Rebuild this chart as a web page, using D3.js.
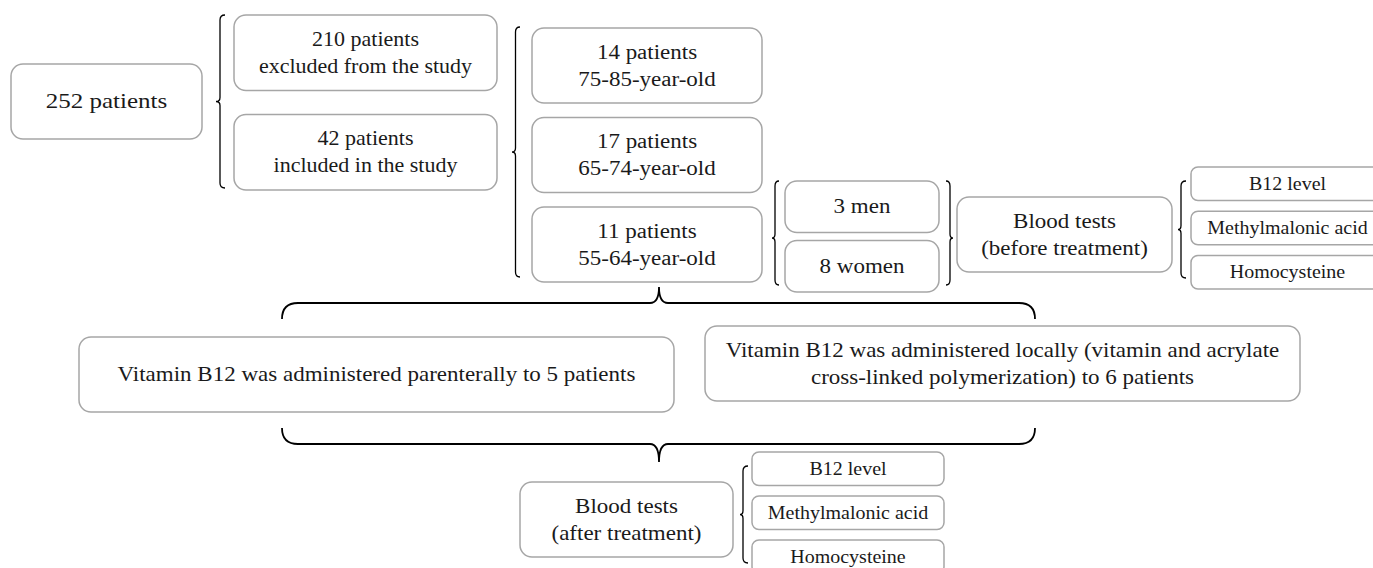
<!DOCTYPE html>
<html>
<head>
<meta charset="utf-8">
<script src="https://cdn.jsdelivr.net/npm/d3@7"></script>
<style>
  body { margin: 0; background: #fff; }
  svg { display: block; }
</style>
</head>
<body>
<svg id="chart"></svg>
<script>
// labels of the flow chart
const rootLabel = ["252 patients"];
const screening = [["210 patients", "excluded from the study"], ["42 patients", "included in the study"]];
const ageGroups = [["14 patients", "75-85-year-old"], ["17 patients", "65-74-year-old"], ["11 patients", "55-64-year-old"]];
const sexes = [["3 men"], ["8 women"]];
const testsBefore = ["Blood tests", "(before treatment)"];
const markers = ["B12 level", "Methylmalonic acid", "Homocysteine"];
const treatments = [
    ["Vitamin B12 was administered parenterally to 5 patients"],
    ["Vitamin B12 was administered locally (vitamin and acrylate", "cross-linked polymerization) to 6 patients"]
];
const testsAfter = ["Blood tests", "(after treatment)"];

const W = 1373, H = 568;
const FONT = "'Liberation Serif', 'Times New Roman', serif";
const BASE_FS = 18;   // text is drawn at this size, then scaled (fh = height, fw = width)

const svg = d3.select("#chart").attr("width", W).attr("height", H);
const gBox = svg.append("g");
const gBrace = svg.append("g");

// vertical stack of boxes
const stack = (n, y0, y1, pad) => d3.scaleBand().domain(d3.range(n)).range([y0, y1]).paddingInner(pad);

function box(x0, x1, y0, y1, lines, opt = {}) {
    const r = opt.r || 12, fh = opt.fh || 20, fw = opt.fw || 23, lh = opt.lh || 27;
    gBox.append("rect")
        .attr("x", x0).attr("y", y0)
        .attr("width", x1 - x0).attr("height", y1 - y0)
        .attr("rx", r).attr("ry", r)
        .attr("fill", "#fff")
        .attr("stroke", "#a6a6a6")
        .attr("stroke-width", 1.5);
    const ky = fh / BASE_FS, kx = fw / BASE_FS;
    const cx = (x0 + x1) / 2, cy = (y0 + y1) / 2;
    const t = gBox.append("text")
        .attr("transform", `translate(${cx},${cy}) scale(${kx},${ky})`)
        .attr("text-anchor", "middle")
        .attr("font-family", FONT)
        .attr("font-size", BASE_FS)
        .attr("fill", "#1a1a1a");
    lines.forEach((s, i) => {
        t.append("tspan")
            .attr("x", 0)
            .attr("y", (i - (lines.length - 1) / 2) * lh / ky)
            .attr("dy", "0.33em")
            .text(s);
    });
}

// curly brace: u along its length, v perpendicular
function brace(a, b, base, orient, o = {}) {
    const d = o.d || 5, t = o.t || 4, re = o.re || 5, rt = o.rt || 4;
    const m = o.m != null ? o.m : (a + b) / 2;
    const map = {
        left: (u, v) => [base - v, u],
        right: (u, v) => [base + v, u],
        up: (u, v) => [u, base - v],
        down: (u, v) => [u, base + v]
    }[orient];
    const p = d3.path();
    p.moveTo(...map(a, 0));
    p.quadraticCurveTo(...map(a, d), ...map(a + re, d));
    p.lineTo(...map(m - rt, d));
    p.quadraticCurveTo(...map(m, d), ...map(m, d + t));
    p.quadraticCurveTo(...map(m, d), ...map(m + rt, d));
    p.lineTo(...map(b - re, d));
    p.quadraticCurveTo(...map(b, d), ...map(b, 0));
    gBrace.append("path")
        .attr("d", p.toString())
        .attr("fill", "none")
        .attr("stroke", "#000")
        .attr("stroke-width", o.sw || 1.3);
}

// column 1
box(11, 202, 64, 139, rootLabel, { fh: 21, fw: 25 });
brace(15, 188, 225, "left");

// column 2
const yScr = stack(screening.length, 15, 190, 0.24);
screening.forEach((s, i) => box(234, 497, yScr(i), yScr(i) + yScr.bandwidth(), s, { fw: 22 }));
brace(27, 277, 520, "left", { d: 4.5, t: 3.5 });

// column 3
const yAge = stack(ageGroups.length, 28, 282, 0.162);
ageGroups.forEach((s, i) => box(532, 762, yAge(i), yAge(i) + yAge.bandwidth(), s, { fh: 20.5 }));
brace(181, 285, 779, "left", { d: 4, t: 3, m: 238 });

// sexes
const ySex = stack(sexes.length, 181, 292, 0.136);
sexes.forEach((s, i) => box(785, 939, ySex(i), ySex(i) + ySex.bandwidth(), s));
brace(181, 285, 946, "right", { d: 4, t: 3, m: 238 });

// tests before treatment
box(957, 1172, 197, 272, testsBefore);
brace(181, 278, 1186, "left", { d: 5, t: 3 });
const yMk1 = stack(markers.length, 167, 289, 0.24);
markers.forEach((s, i) => box(1191, 1384, yMk1(i), yMk1(i) + yMk1.bandwidth(), [s], { r: 7, fh: 18, fw: 20 }));

// treatments
brace(282, 1035, 319, "up", { d: 16, t: 16, re: 16, rt: 9, m: 659, sw: 1.8 });
box(79, 674, 337, 412, treatments[0]);
box(705, 1300, 326, 401, treatments[1]);
brace(282, 1035, 428, "down", { d: 16, t: 18, re: 16, rt: 9, m: 659, sw: 1.8 });

// tests after treatment
box(520, 733, 482, 557, testsAfter);
brace(466, 563, 748, "left", { d: 5, t: 3 });
const yMk2 = stack(markers.length, 452, 573.5, 0.24);
markers.forEach((s, i) => box(752, 944, yMk2(i), yMk2(i) + yMk2.bandwidth(), [s], { r: 7, fh: 18, fw: 20 }));
</script>
</body>
</html>
